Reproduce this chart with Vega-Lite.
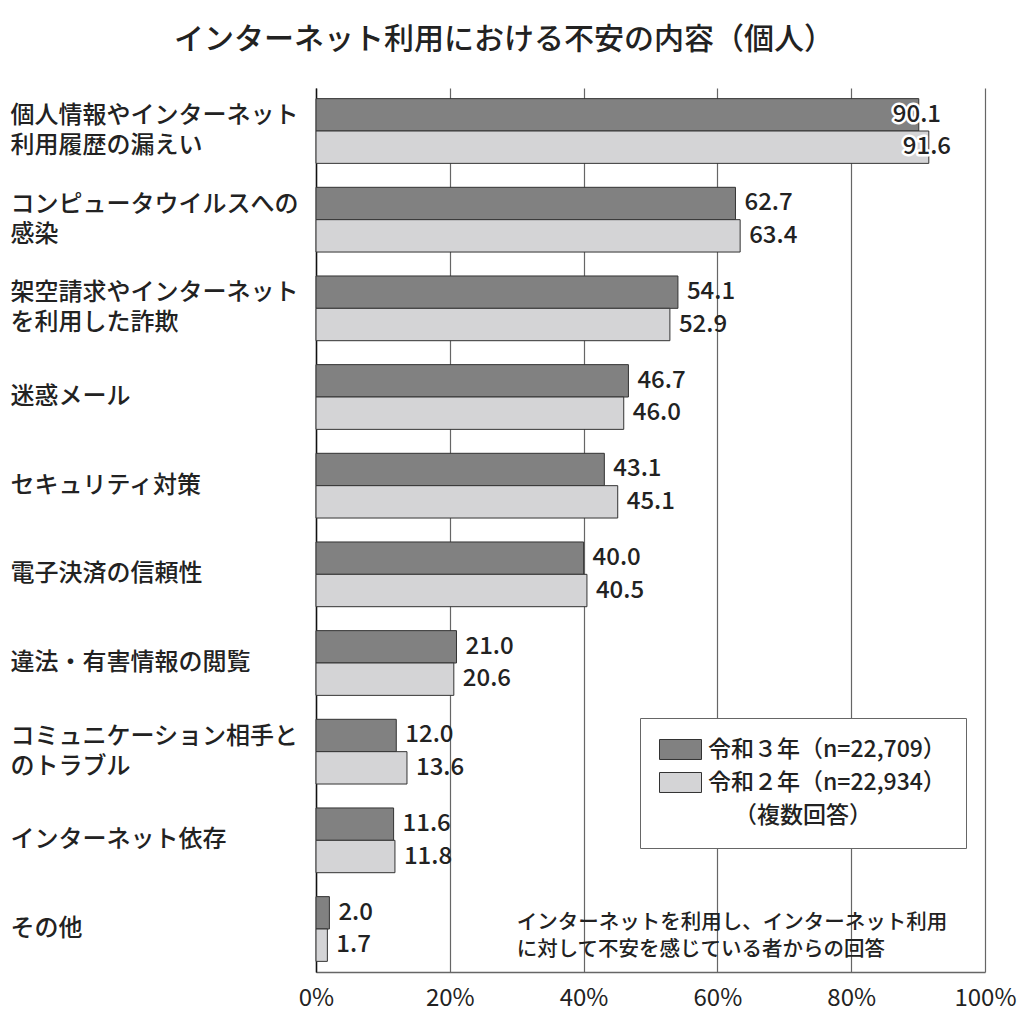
{
  "$schema": "https://vega.github.io/schema/vega-lite/v6.json",
  "width": 669,
  "height": 884,
  "autosize": {"type": "none"},
  "padding": {"left": 316, "top": 88, "right": 39, "bottom": 52},
  "background": "white",
  "title": {
    "text": "インターネット利用における不安の内容（個人）",
    "anchor": "start",
    "frame": "group",
    "dx": -142,
    "offset": 33,
    "fontSize": 30,
    "font": "Noto Sans CJK JP",
    "fontWeight": 500,
    "color": "#222"
  },
  "config": {"font": "Noto Sans CJK JP", "view": {"stroke": null}},
  "data": {
    "values": [
      {"category": "個人情報やインターネット\n利用履歴の漏えい", "year": "令和３年（n=22,709）", "value": 90.1},
      {"category": "個人情報やインターネット\n利用履歴の漏えい", "year": "令和２年（n=22,934）", "value": 91.6},
      {"category": "コンピュータウイルスへの\n感染", "year": "令和３年（n=22,709）", "value": 62.7},
      {"category": "コンピュータウイルスへの\n感染", "year": "令和２年（n=22,934）", "value": 63.4},
      {"category": "架空請求やインターネット\nを利用した詐欺", "year": "令和３年（n=22,709）", "value": 54.1},
      {"category": "架空請求やインターネット\nを利用した詐欺", "year": "令和２年（n=22,934）", "value": 52.9},
      {"category": "迷惑メール", "year": "令和３年（n=22,709）", "value": 46.7},
      {"category": "迷惑メール", "year": "令和２年（n=22,934）", "value": 46.0},
      {"category": "セキュリティ対策", "year": "令和３年（n=22,709）", "value": 43.1},
      {"category": "セキュリティ対策", "year": "令和２年（n=22,934）", "value": 45.1},
      {"category": "電子決済の信頼性", "year": "令和３年（n=22,709）", "value": 40.0},
      {"category": "電子決済の信頼性", "year": "令和２年（n=22,934）", "value": 40.5},
      {"category": "違法・有害情報の閲覧", "year": "令和３年（n=22,709）", "value": 21.0},
      {"category": "違法・有害情報の閲覧", "year": "令和２年（n=22,934）", "value": 20.6},
      {"category": "コミュニケーション相手と\nのトラブル", "year": "令和３年（n=22,709）", "value": 12.0},
      {"category": "コミュニケーション相手と\nのトラブル", "year": "令和２年（n=22,934）", "value": 13.6},
      {"category": "インターネット依存", "year": "令和３年（n=22,709）", "value": 11.6},
      {"category": "インターネット依存", "year": "令和２年（n=22,934）", "value": 11.8},
      {"category": "その他", "year": "令和３年（n=22,709）", "value": 2.0},
      {"category": "その他", "year": "令和２年（n=22,934）", "value": 1.7}
    ]
  },
  "encoding": {
    "y": {
      "field": "category",
      "type": "nominal",
      "sort": null,
      "scale": {"paddingInner": 0.27, "paddingOuter": 0.12},
      "axis": {
        "title": null,
        "domain": true,
        "domainColor": "#111",
        "domainWidth": 1.5,
        "ticks": false,
        "grid": false,
        "labelAlign": "left",
        "labelBaseline": "middle",
        "labelPadding": 306,
        "labelFontSize": 24,
        "labelFontWeight": 500,
        "labelLineHeight": 30,
        "labelLimit": 320,
        "labelColor": "#222",
        "labelOffset": {"condition": {"test": "indexof(datum.label, '\\n') >= 0", "value": -15}, "value": 0},
        "labelExpr": "split(datum.label, '\\n')"
      }
    },
    "x": {
      "field": "value",
      "type": "quantitative",
      "scale": {"domain": [0, 100], "nice": false},
      "axis": {
        "title": null,
        "values": [0, 20, 40, 60, 80, 100],
        "grid": true,
        "gridColor": "#666",
        "gridWidth": 1.2,
        "domainColor": "#666",
        "domainWidth": 1.5,
        "ticks": false,
        "labelFontSize": 24,
        "labelColor": "#222",
        "labelPadding": 14,
        "labelFlush": false,
        "labelOverlap": false,
        "labelExpr": "datum.value + '%'"
      }
    }
  },
  "layer": [
    {
      "mark": {"type": "bar", "stroke": "#333", "strokeWidth": 1},
      "encoding": {
        "yOffset": {
          "field": "year",
          "type": "nominal",
          "sort": ["令和３年（n=22,709）", "令和２年（n=22,934）"]
        },
        "color": {
          "field": "year",
          "type": "nominal",
          "sort": ["令和３年（n=22,709）", "令和２年（n=22,934）"],
          "scale": {
            "domain": ["令和３年（n=22,709）", "令和２年（n=22,934）"],
            "range": ["#818181", "#d4d4d6"]
          },
          "legend": {
            "title": "（複数回答）",
            "titleOrient": "bottom",
            "titleAnchor": "middle",
            "titleFontSize": 23,
            "titleFontWeight": 500,
            "titleColor": "#222",
            "titlePadding": 10,
            "orient": "none",
            "legendX": 324,
            "legendY": 630,
            "fillColor": "white",
            "strokeColor": "#666",
            "padding": 20,
            "symbolType": "M-2,-0.952H2V0.952H-2Z",
            "symbolSize": 441,
            "symbolOffset": 9,
            "symbolStrokeColor": "#333",
            "symbolStrokeWidth": 1,
            "symbolOpacity": 1,
            "labelFontSize": 23,
            "labelFontWeight": 500,
            "labelColor": "#222",
            "labelLimit": 400,
            "labelOffset": 16,
            "rowPadding": 8
          }
        }
      }
    },
    {
      "transform": [{"filter": "datum.value < 85"}],
      "mark": {"type": "text", "align": "left", "baseline": "middle", "dx": 9, "fontSize": 24, "fontWeight": 500, "color": "#222"},
      "encoding": {
        "yOffset": {"field": "year", "type": "nominal", "sort": ["令和３年（n=22,709）", "令和２年（n=22,934）"]},
        "text": {"field": "value", "type": "quantitative", "format": ".1f"}
      }
    },
    {
      "transform": [{"filter": "datum.value >= 85"}],
      "mark": {"type": "text", "align": "left", "baseline": "middle", "dx": -26, "fontSize": 24, "fontWeight": 500, "color": "white", "stroke": "white", "strokeWidth": 5, "strokeJoin": "round"},
      "encoding": {
        "yOffset": {"field": "year", "type": "nominal", "sort": ["令和３年（n=22,709）", "令和２年（n=22,934）"]},
        "text": {"field": "value", "type": "quantitative", "format": ".1f"}
      }
    },
    {
      "transform": [{"filter": "datum.value >= 85"}],
      "mark": {"type": "text", "align": "left", "baseline": "middle", "dx": -26, "fontSize": 24, "fontWeight": 500, "color": "#222"},
      "encoding": {
        "yOffset": {"field": "year", "type": "nominal", "sort": ["令和３年（n=22,709）", "令和２年（n=22,934）"]},
        "text": {"field": "value", "type": "quantitative", "format": ".1f"}
      }
    },
    {
      "data": {
        "values": [
          {"category": "その他", "value": 30, "note": "インターネットを利用し、インターネット利用\nに対して不安を感じている者からの回答"}
        ]
      },
      "mark": {"type": "text", "align": "left", "baseline": "middle", "dy": -6, "fontSize": 20.5, "fontWeight": 500, "lineHeight": 27, "lineBreak": "\n", "color": "#222"},
      "encoding": {
        "text": {"field": "note", "type": "nominal"}
      }
    }
  ]
}
